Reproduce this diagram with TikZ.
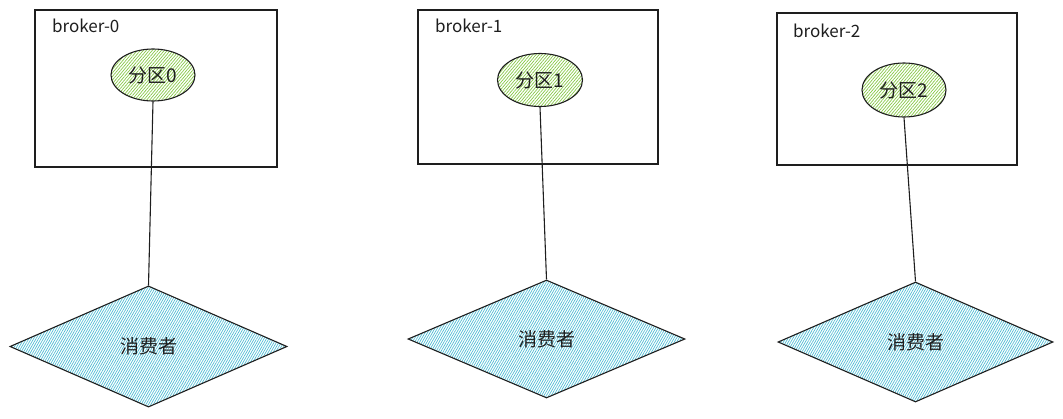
\documentclass[tikz,border=0pt]{standalone}
\usepackage{fontspec}
\setmainfont{Noto Sans CJK SC}
\usetikzlibrary{shapes.geometric,patterns.meta}
\definecolor{ink}{HTML}{1E1E1E}
\definecolor{hgreen}{HTML}{86C846}
\definecolor{hblue}{HTML}{4FBCD4}
\tikzset{
  brokerbox/.style={draw=ink,line width=1.1pt,rectangle,inner sep=0pt},
  blabel/.style={anchor=west,inner sep=0pt,font=\fontsize{17}{19}\selectfont,text=ink},
  part/.style={ellipse,draw=ink,line width=1.1pt,inner sep=0pt,minimum width=84pt,minimum height=52pt,
    pattern={Lines[angle=50,distance=2.3pt,line width=0.7pt]},pattern color=hgreen,
    font=\fontsize{19}{21}\selectfont,text=ink},
  consumer/.style={diamond,draw=ink,line width=1.1pt,inner sep=0pt,
    pattern={Lines[angle=60,distance=2.1pt,line width=0.7pt]},pattern color=hblue,
    font=\fontsize{19}{21}\selectfont,text=ink},
  link/.style={draw=ink,line width=1.1pt}
}
\begin{document}
\begin{tikzpicture}[x=1pt,y=-1pt]
\useasboundingbox (0,0) rectangle (1063,418);
% brokers
\node[brokerbox,minimum width=242pt,minimum height=157pt] (b0) at (156,88.5) {};
\node[brokerbox,minimum width=240pt,minimum height=154pt] (b1) at (538,87) {};
\node[brokerbox,minimum width=240pt,minimum height=152pt] (b2) at (897,89) {};
\node[blabel] (l0) at (52,26) {broker-0};
\node[blabel] (l1) at (435,26) {broker-1};
\node[blabel] (l2) at (793,31) {broker-2};
% partitions
\node[part] (e0) at (153,75) {分区0};
\node[part,minimum width=85pt,minimum height=53pt] (e1) at (540,80) {分区1};
\node[part,minimum height=54pt] (e2) at (904,90) {分区2};
% consumers
\node[consumer,minimum width=277pt,minimum height=121pt] (d0) at (148.5,346.5) {消费者};
\node[consumer,minimum width=277pt,minimum height=118pt] (d1) at (546.5,339) {消费者};
\node[consumer,minimum width=275pt,minimum height=120pt] (d2) at (915.5,342) {消费者};
% links
\draw[link] (e0.south) -- (d0.north);
\draw[link] (e1.south) -- (d1.north);
\draw[link] (e2.south) -- (d2.north);
\end{tikzpicture}
\end{document}
